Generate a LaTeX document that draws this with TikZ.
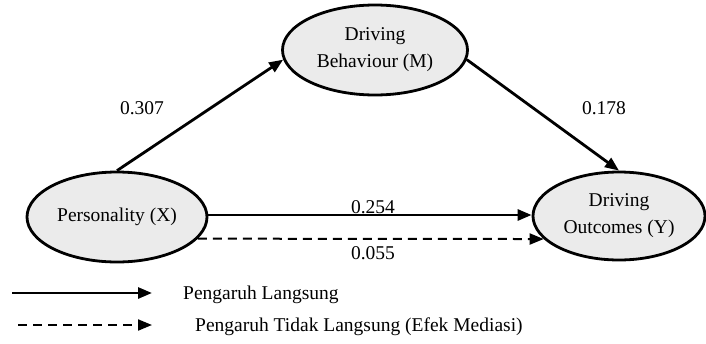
\documentclass[tikz,border=0pt]{standalone}
\usepackage{fontspec}
\setmainfont{Liberation Serif}
\usetikzlibrary{arrows.meta,shapes.geometric}
\begin{document}
\begin{tikzpicture}[x=1pt,y=-1pt,
  var/.style={ellipse,draw=black,line width=2.8pt,fill=black!8,align=center,font=\fontsize{19.5}{27}\selectfont,inner sep=0pt},
  path/.style={line width=2.8pt,-{Triangle[length=14pt,width=11pt]}},
  ind/.style={line width=2pt,dash pattern=on 9pt off 6pt,-{Triangle[length=14pt,width=11pt]}},
  lbl/.style={font=\fontsize{19.5}{24}\selectfont,inner sep=0pt},
  lgd/.style={font=\fontsize{19.5}{24}\selectfont,inner sep=0pt,anchor=west}]
\useasboundingbox (0,0) rectangle (706,343);
\node[var,minimum width=180pt,minimum height=90pt] (X) at (117,217) {Personality (X)};
\node[var,minimum width=185pt,minimum height=90pt] (M) at (375,50) {Driving\\Behaviour (M)};
\node[var,minimum width=172pt,minimum height=88pt] (Y) at (619,216) {Driving\\Outcomes (Y)};
\draw[path] (X.north) -- (M.186);
\draw[path] (M.-6) -- (Y.north);
\draw[path] (X.east |- 0,215) -- (Y.west |- 0,215);
\draw[ind] (X.-15) -- (Y.-163);
\node[lbl] (l1) at (142,108) {0.307};
\node[lbl] (l2) at (604,108) {0.178};
\node[lbl] (l3) at (373,207) {0.254};
\node[lbl] (l4) at (373,253) {0.055};
\coordinate (s1) at (12,293);
\coordinate (e1) at (152,293);
\coordinate (s2) at (18,325);
\coordinate (e2) at (152,325);
\draw[path] (s1) -- (e1);
\draw[ind] (s2) -- (e2);
\node[lgd] (t1) at (183,295) {Pengaruh Langsung};
\node[lgd] (t2) at (195,327) {Pengaruh Tidak Langsung (Efek Mediasi)};
\end{tikzpicture}
\end{document}
